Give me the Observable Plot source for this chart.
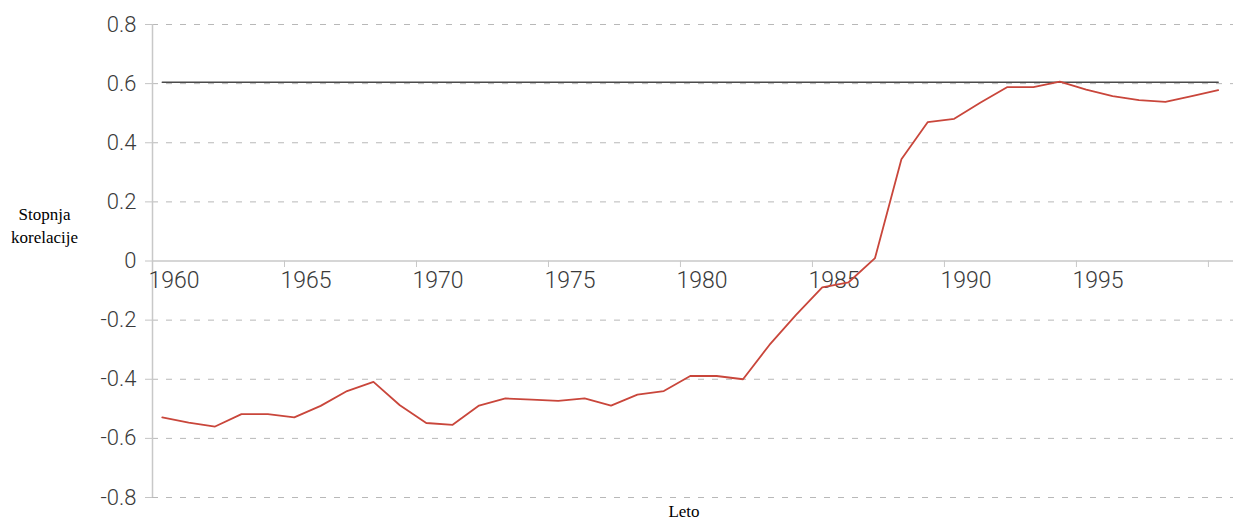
<!DOCTYPE html>
<html>
<head>
<meta charset="utf-8">
<script src="https://cdn.jsdelivr.net/npm/d3@7"></script>
<script src="https://cdn.jsdelivr.net/npm/@observablehq/plot@0.6"></script>
<style>
  html, body { margin: 0; padding: 0; background: #fff; }
  #chart svg { display: block; }
</style>
</head>
<body>
<div id="chart"></div>
<script>
const years = d3.range(1960, 2001);
const values = [
  -0.529, -0.547, -0.560, -0.518, -0.518, -0.529, -0.490, -0.440, -0.409, -0.488,
  -0.548, -0.554, -0.489, -0.465, -0.469, -0.473, -0.465, -0.489, -0.452, -0.440,
  -0.389, -0.389, -0.400, -0.284, -0.183, -0.089, -0.072, 0.010, 0.344, 0.470,
  0.481, 0.536, 0.588, 0.588, 0.607, 0.580, 0.558, 0.544, 0.538, 0.558,
  0.578
];
const referenceValue = 0.605;
const yTicks = [-0.8, -0.6, -0.4, -0.2, 0, 0.2, 0.4, 0.6, 0.8];
const xTicks = [1960, 1965, 1970, 1975, 1980, 1985, 1990, 1995, 2000];
const xTickLabels = ["1960", "1965", "1970", "1975", "1980", "1985", "1990", "1995"];
const yTitle = "Stopnja\nkorelacije";
const xTitle = "Leto";

const data = years.map((year, i) => ({year, value: values[i]}));
const shift = 0.37; // points sit slightly right of the year ticks
const px = d => d.year + shift;

const tickFont = "Roboto, 'Noto Sans', sans-serif";
const serif = "'Liberation Serif', 'DejaVu Serif', serif";

const chart = Plot.plot({
  width: 1233,
  height: 522,
  marginLeft: 152,
  marginRight: 0,
  marginTop: 24,
  marginBottom: 25,
  x: {domain: [1960, 2000.95], axis: null},
  y: {domain: [-0.8, 0.8], axis: null},
  marks: [
    Plot.ruleY(yTicks.filter(v => v !== 0), {y: d => d, stroke: "#b8b8b8", strokeWidth: 1, strokeDasharray: "6,8"}),
    Plot.axisY(yTicks, {
      tickSize: 7, tickPadding: 9, stroke: "#c4c4c4",
      tickFormat: d => d === 0 ? "0" : String(d),
      fontSize: 22, fontFamily: tickFont, fontWeight: 300, fill: "#3a3a3a", label: null
    }),
    Plot.ruleY([0], {stroke: "#c8c8c8", strokeWidth: 1.5}),
    Plot.ruleX([1960], {y1: -0.8, y2: 0.8, stroke: "#c8c8c8", strokeWidth: 1.5}),
    Plot.ruleX(xTicks, {x: d => d, y1: 0, y2: -0.022, stroke: "#c8c8c8", strokeWidth: 1}),
    Plot.text(xTickLabels, {
      x: d => +d, y: 0, text: d => d, dx: -4, dy: 20, textAnchor: "start",
      fontSize: 23, fontFamily: tickFont, fontWeight: 300, fill: "#3a3a3a"
    }),
    Plot.lineY(data, {x: px, y: () => referenceValue, stroke: "#4a4a4a", strokeWidth: 1.5}),
    Plot.lineY(data, {x: px, y: "value", stroke: "#c9463b", strokeWidth: 1.8}),
    Plot.text([yTitle], {
      frameAnchor: "left", dx: -108, dy: -37, text: d => d, textAnchor: "middle",
      lineHeight: 1.35, fontSize: 17, fontFamily: serif, fill: "#000"
    }),
    Plot.text([xTitle], {
      frameAnchor: "bottom", dx: -9, dy: 19, text: d => d, textAnchor: "middle",
      fontSize: 17, fontFamily: serif, fill: "#000"
    })
  ]
});
document.getElementById("chart").appendChild(chart);
</script>
</body>
</html>
